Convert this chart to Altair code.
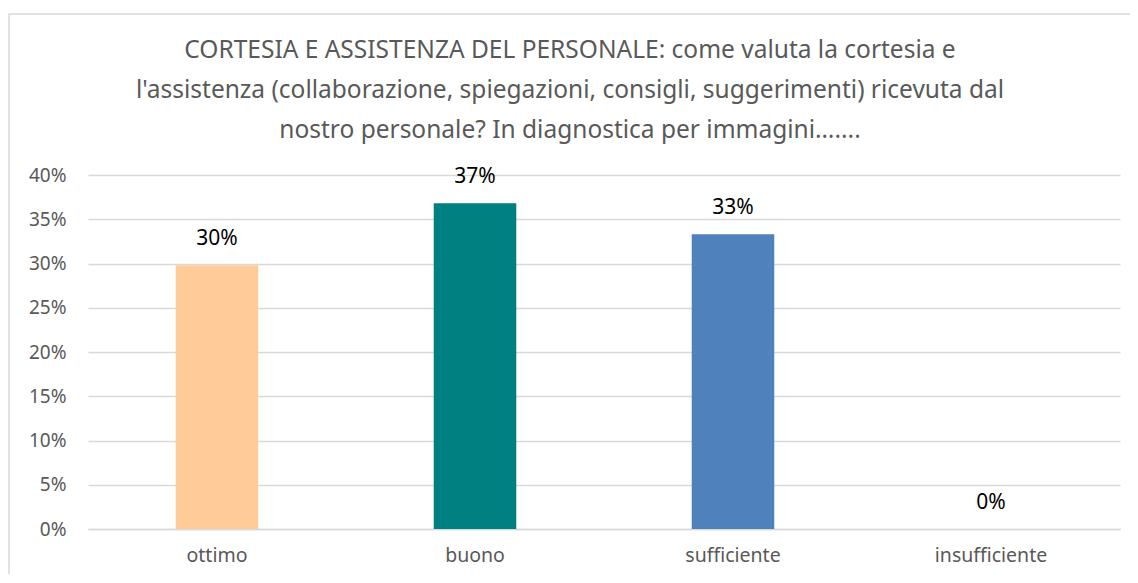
import altair as alt
import pandas as pd

categories = ["ottimo", "buono", "sufficiente", "insufficiente"]
values = [0.298, 0.368, 0.333, 0.0]
bar_colors = ["#FFCC99", "#008080", "#4F81BD", "#A5A5A5"]
y_ticks = [0.0, 0.05, 0.10, 0.15, 0.20, 0.25, 0.30, 0.35, 0.40]
title_lines = [
    "CORTESIA E ASSISTENZA DEL PERSONALE: come valuta la cortesia e",
    "l'assistenza (collaborazione, spiegazioni, consigli, suggerimenti) ricevuta dal",
    "nostro personale? In diagnostica per immagini…....",
]

FONT = "Noto Sans"
df = pd.DataFrame({"categoria": categories, "valore": values})

x_enc = alt.X(
    "categoria:N",
    sort=categories,
    scale=alt.Scale(paddingInner=0.68, paddingOuter=0.34),
    axis=alt.Axis(
        title=None, labelAngle=0, labelFontSize=19.5, labelColor="#595959",
        labelFont=FONT, labelPadding=17, ticks=False,
        domainColor="#d9d9d9", domainWidth=1.5,
    ),
)
y_enc = alt.Y(
    "valore:Q",
    scale=alt.Scale(domain=[0, 0.4], nice=False),
    axis=alt.Axis(
        values=y_ticks, format=".0%", title=None, domain=False, ticks=False,
        gridColor="#d9d9d9", gridWidth=1.5, labelPadding=22, labelFontSize=19,
        labelColor="#595959", labelFont=FONT,
    ),
)

one_row = alt.Data(values=[{"a": 1}])

frame = alt.Chart(one_row).mark_rect(
    filled=False, stroke="#d9d9d9", strokeWidth=1.5
).encode(
    x=alt.value(-79), x2=alt.value(1080), y=alt.value(-161), y2=alt.value(440)
)

title = alt.Chart(one_row).mark_text(
    align="center", baseline="middle", fontSize=24.5, color="#595959",
    font=FONT, lineHeight=40,
).encode(
    x=alt.value(482), y=alt.value(-124), text=alt.value(title_lines)
)

bars = alt.Chart(df).mark_bar().encode(
    x=x_enc,
    y=y_enc,
    color=alt.Color(
        "categoria:N",
        scale=alt.Scale(domain=categories, range=bar_colors),
        legend=None,
    ),
)

labels = alt.Chart(df).mark_text(
    baseline="middle", dy=-26, fontSize=21, color="#000000", font=FONT
).encode(
    x=alt.X("categoria:N", sort=categories),
    y=alt.Y("valore:Q"),
    text=alt.Text("valore:Q", format=".0%"),
)

chart = alt.layer(frame, title, bars, labels).properties(
    width=1032,
    height=354,
    autosize=alt.AutoSizeParams(type="none"),
    padding={"left": 80, "top": 167, "right": 10, "bottom": 45},
    background="white",
).configure_view(stroke=None)

chart.save("out.html", embed_options={"renderer": "svg", "actions": False})
